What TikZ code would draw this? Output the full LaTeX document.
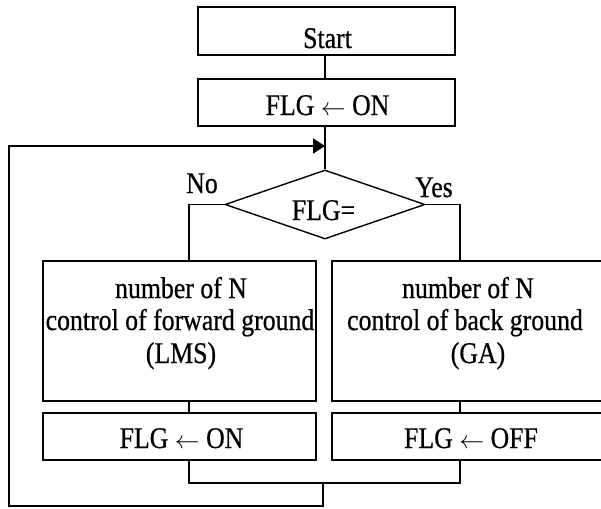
\documentclass[tikz,border=0pt]{standalone}
\usepackage{fontspec}
\setmainfont{Liberation Serif}[FakeStretch=0.86,FakeBold=0.6]
\usetikzlibrary{arrows.meta,shapes.geometric}

% thin left arrow used in the assignment boxes
\newcommand{\assignarrow}{{\fontsize{25}{25}\selectfont$\leftarrow$}}

\begin{document}
\begin{tikzpicture}[x=1pt,y=-1pt,line join=miter,
  flow/.style={draw,line width=1.4pt},
  loopline/.style={draw,line width=1.8pt},
  box/.style={draw,line width=1.4pt,inner sep=0pt},
  startbox/.style={box,line width=2.4pt},
  decision/.style={draw,line width=1.4pt,shape=diamond,inner sep=0pt,aspect=2.9},
  txt/.style={anchor=base,inner sep=0pt,font=\fontsize{30}{32.5}\selectfont}]
\useasboundingbox (0,0) rectangle (601,508);
\clip (0,0) rectangle (601,508);

% boxes
\node[startbox,minimum width=257pt,minimum height=48pt] (start) at (326.5,31) {};
\node[box,minimum width=257pt,minimum height=47pt] (init) at (326.5,102.5) {};
\node[decision,minimum width=200pt,minimum height=69pt] (dec) at (325,204.5) {};
\node[box,minimum width=273pt,minimum height=140pt] (lbox) at (179.5,331) {};
\node[box,minimum width=272pt,minimum height=140pt] (rbox) at (468,331) {};
\node[box,minimum width=273pt,minimum height=47pt] (lflg) at (179.5,436.5) {};
\node[box,minimum width=272pt,minimum height=47pt] (rflg) at (468,436.5) {};

% texts
\node[txt] (tstart) at (327.5,48) {Start};
\node[txt] (tinit) at (327.5,115) {FLG \assignarrow{} ON};
\node[txt] (tdec) at (323.5,220) {FLG=};
\node[txt] (tno) at (202,193) {No};
\node[txt] (tyes) at (434,197) {Yes};
\node[txt] (la) at (181,298) {number of N};
\node[txt] (lb) at (180,330) {control of forward ground};
\node[txt] (lc) at (181,363) {(LMS)};
\node[txt] (ra) at (468,298) {number of N};
\node[txt] (rb) at (465,330) {control of back ground};
\node[txt] (rc) at (478,363) {(GA)};
\node[txt] (tlflg) at (181.5,448) {FLG \assignarrow{} ON};
\node[txt] (trflg) at (471,448) {FLG \assignarrow{} OFF};

% routing points
\coordinate (nocorner) at (189,204.5);
\coordinate (yescorner) at (460,204.5);
\coordinate (merge) at (323,483);
\coordinate (loopbl) at (9,506);
\coordinate (looptl) at (9,146);
\coordinate (entry) at (325,146);

% connectors
\draw[flow] (start.south -| dec.north) -- (init.north -| dec.north);
\draw[flow] (init.south -| dec.north) -- (dec.north);
\draw[flow] (dec.west) -- (nocorner) -- (lbox.north -| nocorner);
\draw[flow] (dec.east) -- (yescorner) -- (rbox.north -| yescorner);
\draw[flow] (lbox.south -| nocorner) -- (lflg.north -| nocorner);
\draw[flow] (rbox.south -| yescorner) -- (rflg.north -| yescorner);
\draw[flow] (lflg.south -| nocorner) -- (nocorner |- merge) -- (yescorner |- merge) -- (rflg.south -| yescorner);
\draw[loopline,-{Triangle[length=12pt,width=15pt]}] (merge) -- (merge |- loopbl) -- (loopbl) -- (looptl) -- (entry);
\end{tikzpicture}
\end{document}
